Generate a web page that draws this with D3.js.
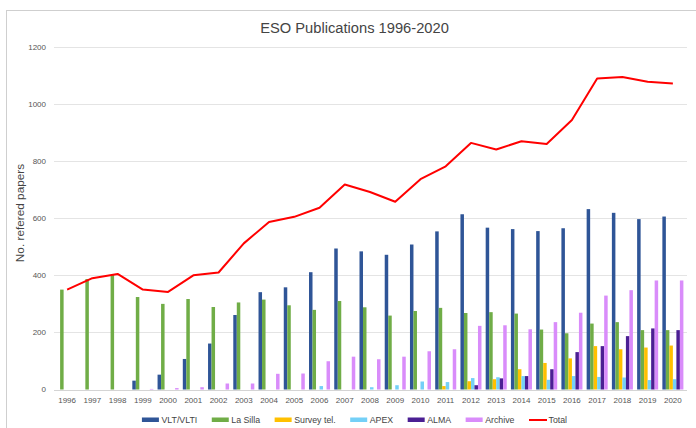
<!DOCTYPE html>
<html><head><meta charset="utf-8">
<script src="https://cdn.jsdelivr.net/npm/d3@7"></script>
<style>html,body{margin:0;padding:0;background:#fff;}svg{display:block;font-family:"Liberation Sans",Arial,Helvetica,sans-serif;}</style>
</head><body><svg id="c" width="696" height="428"></svg>
<script>
const years = [1996,1997,1998,1999,2000,2001,2002,2003,2004,2005,2006,2007,2008,2009,2010,2011,2012,2013,2014,2015,2016,2017,2018,2019,2020];
const vlt     = [0,0,0,31,52,107,161,261,341,358,411,494,484,472,508,554,614,567,562,555,565,632,619,597,606];
const laSilla = [350,387,402,324,300,317,289,305,315,295,279,310,288,259,275,286,268,271,266,210,197,231,236,208,208];
const survey  = [0,0,0,0,0,0,0,0,0,0,0,0,0,0,0,12,29,36,71,93,109,152,141,147,154];
const apex    = [0,0,0,0,0,0,0,0,0,0,12,0,8,15,28,26,40,43,47,34,47,44,42,33,36];
const alma    = [0,0,0,0,0,0,0,0,0,0,0,0,0,0,0,0,15,39,47,71,131,152,187,214,208];
const archive = [0,0,0,2,5,8,21,21,55,56,99,115,106,115,134,141,223,225,211,236,269,329,348,382,382];
const total   = [350,390,405,350,342,400,410,512,587,605,637,718,692,658,737,782,864,841,870,860,944,1090,1095,1078,1072];
const seriesNames = ["VLT/VLTI","La Silla","Survey tel.","APEX","ALMA","Archive"];
const seriesData = [vlt, laSilla, survey, apex, alma, archive];
const seriesColors = ["#2f5597","#70ad47","#ffc000","#74d0f7","#4b1f93","#d98cfa"];
const totalName = "Total", totalColor = "#ff0000";
const yTicks = [0,200,400,600,800,1000,1200];

const svg = d3.select("#c");
// frame
svg.append("rect").attr("x",6.5).attr("y",10.5).attr("width",720).attr("height",440)
  .attr("fill","none").attr("stroke","#cfcfcf");

const x = d3.scaleBand().domain(years).range([54.5,685.5]).padding(0);
const x1 = d3.scaleBand().domain(seriesNames).range([0,x.bandwidth()]).paddingOuter(0.6);
const y = d3.scaleLinear().domain([0,1200]).range([389.5,47]);

// gridlines
svg.append("g").selectAll("line").data(yTicks).join("line")
  .attr("x1",54).attr("x2",687).attr("y1",d=>Math.round(y(d))+0.5).attr("y2",d=>Math.round(y(d))+0.5)
  .attr("stroke",d=>d===0?"#d4d4d4":"#e4e4e4").attr("stroke-width",1);

// y tick labels
svg.append("g").selectAll("text").data(yTicks).join("text")
  .attr("x",46).attr("y",d=>y(d)).attr("dy","0.35em").attr("text-anchor","end")
  .attr("font-size",8).attr("fill","#555").text(d=>d);

// x labels
svg.append("g").selectAll("text").data(years).join("text")
  .attr("x",d=>x(d)+x.bandwidth()/2).attr("y",403).attr("text-anchor","middle")
  .attr("font-size",8).attr("fill","#555").text(d=>d);

// bars
const rows = [];
years.forEach((yr,i)=>seriesNames.forEach((s,j)=>{ if(seriesData[j][i]>0) rows.push({yr,s,j,v:seriesData[j][i]}); }));
svg.append("g").selectAll("rect").data(rows).join("rect")
  .attr("x",d=>x(d.yr)+x1(d.s)).attr("width",x1.bandwidth())
  .attr("y",d=>y(d.v)).attr("height",d=>y(0)-y(d.v))
  .attr("fill",d=>seriesColors[d.j]);

// total line
const line = d3.line().x((d,i)=>x(years[i])+x.bandwidth()/2).y(d=>y(d));
svg.append("path").datum(total).attr("d",line).attr("fill","none")
  .attr("stroke",totalColor).attr("stroke-width",2).attr("stroke-linejoin","round");

// title
svg.append("text").attr("x",354.5).attr("y",33.3).attr("text-anchor","middle")
  .attr("font-size",14.7).attr("fill","#444").text("ESO Publications 1996-2020");

// y axis title
svg.append("text").attr("transform","translate(23.5,213) rotate(-90)").attr("text-anchor","middle")
  .attr("font-size",11.8).attr("fill","#444").text("No. refered papers");

// legend
const leg = svg.append("g");
const items = seriesNames.map((s,i)=>({name:s,color:seriesColors[i],type:"bar"})).concat([{name:totalName,color:totalColor,type:"line"}]);
let cx = 0;
const g = leg.selectAll("g").data(items).join("g");
g.each(function(d){
  const el = d3.select(this);
  if(d.type==="bar") el.append("rect").attr("x",0).attr("y",-2.5).attr("width",17).attr("height",4.5).attr("fill",d.color);
  else el.append("line").attr("x1",0).attr("x2",18).attr("y1",0).attr("y2",0).attr("stroke",d.color).attr("stroke-width",2);
  const t = el.append("text").attr("x",19.5).attr("y",0).attr("dy","0.35em").attr("font-size",8.8).attr("fill","#444").text(d.name);
  d.w = 19.5 + t.node().getComputedTextLength();
});
const gap = 14.5;
g.attr("transform",d=>{const tx=cx; cx+=d.w+gap; return `translate(${tx},0)`;});
const totalW = cx-gap;
leg.attr("transform",`translate(${354.5-totalW/2},420)`);
</script></body></html>
